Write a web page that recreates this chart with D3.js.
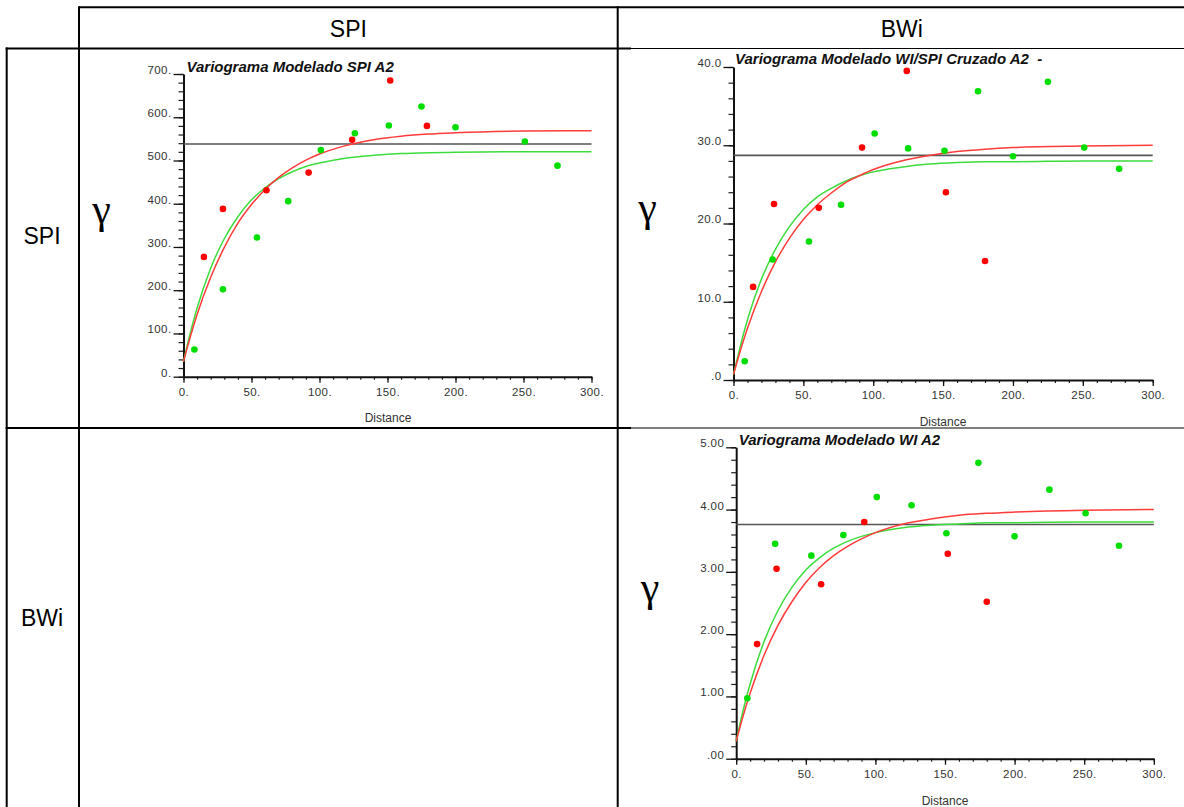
<!DOCTYPE html>
<html><head><meta charset="utf-8">
<script src="https://cdn.jsdelivr.net/npm/d3@7"></script>
<style>body{margin:0;background:#fff} svg{display:block}</style>
</head><body><svg id="c" width="1184" height="807"></svg>
<script>
// ---------- DATA ----------
const columnHeaders = ["SPI", "BWi"];
const rowHeaders = ["SPI", "BWi"];
const gammaSymbol = "γ";
const xAxisTitle = "Distance";

const xTickValues = [0, 50, 100, 150, 200, 250, 300];
const xTickLabels = ["0.", "50.", "100.", "150.", "200.", "250.", "300."];

// Model curve lag distances
const modelLags = [0, 5, 10, 20, 30, 40, 50, 60, 70, 80, 90, 100, 120, 140, 160, 180, 200, 250, 300];

// Panel 1: SPI
const spiTitle = "Variograma Modelado SPI A2";
const spiYTickValues = [0, 100, 200, 300, 400, 500, 600, 700];
const spiYTickLabels = ["0.", "100.", "200.", "300.", "400.", "500.", "600.", "700."];
const spiRedLag = [15, 29, 61, 92, 124, 152, 179];
const spiRedGamma = [277, 388, 431, 472, 548, 685, 580];
const spiGreenLag = [8, 29, 54, 77, 101, 126, 151, 175, 200, 251, 275];
const spiGreenGamma = [63, 202, 322, 406, 524, 563, 581, 625, 577, 544, 488];
const spiSill = 538;
const spiRedModel = [35, 92, 144, 230, 299, 355, 398, 433, 461, 483, 501, 515, 535, 548, 556, 561, 564, 568, 569];
const spiGreenModel = [35, 101, 159, 251, 319, 370, 409, 437, 458, 474, 486, 494, 506, 512, 516, 518, 519, 520, 520];

// Panel 2: WI/SPI cross
const crossTitle = "Variograma Modelado WI/SPI Cruzado A2  -";
const crossYTickValues = [0, 10, 20, 30, 40];
const crossYTickLabels = [".0", "10.0", "20.0", "30.0", "40.0"];
const crossRedLag = [14, 29, 61, 92, 124, 152, 180];
const crossRedGamma = [11.9, 22.5, 22.0, 29.7, 39.5, 24.0, 15.2];
const crossGreenLag = [8, 28, 54, 77, 101, 125, 151, 175, 200, 225, 251, 276];
const crossGreenGamma = [2.4, 15.4, 17.7, 22.4, 31.5, 29.6, 29.3, 36.9, 28.6, 38.1, 29.7, 27.0];
const crossSill = 28.7;
const crossRedModel = [0.7, 3.8, 6.6, 11.3, 15.1, 18.1, 20.5, 22.4, 23.9, 25.2, 26.1, 26.9, 28.0, 28.7, 29.2, 29.5, 29.7, 29.9, 30.0];
const crossGreenModel = [0.7, 4.4, 7.7, 12.9, 16.7, 19.6, 21.8, 23.4, 24.5, 25.4, 26.1, 26.6, 27.2, 27.6, 27.8, 27.9, 27.9, 28.0, 28.0];

// Panel 3: WI
const wiTitle = "Variograma Modelado WI A2";
const wiYTickValues = [0, 1, 2, 3, 4, 5];
const wiYTickLabels = [".00", "1.00", "2.00", "3.00", "4.00", "5.00"];
const wiRedLag = [15, 29, 61, 92, 152, 180];
const wiRedGamma = [1.84, 3.05, 2.80, 3.80, 3.29, 2.52];
const wiGreenLag = [8, 28, 54, 77, 101, 126, 151, 174, 200, 225, 251, 275];
const wiGreenGamma = [0.97, 3.45, 3.26, 3.59, 4.20, 4.07, 3.62, 4.75, 3.57, 4.32, 3.94, 3.42];
const wiSill = 3.76;
const wiRedModel = [0.28, 0.69, 1.05, 1.66, 2.14, 2.52, 2.83, 3.07, 3.26, 3.41, 3.53, 3.63, 3.77, 3.85, 3.91, 3.94, 3.96, 3.99, 4.00];
const wiGreenModel = [0.28, 0.78, 1.20, 1.88, 2.38, 2.75, 3.03, 3.23, 3.38, 3.49, 3.57, 3.63, 3.71, 3.75, 3.77, 3.79, 3.79, 3.80, 3.80];

// ---------- DRAW ----------
const svg = d3.select("#c");
svg.append("rect").attr("width", 1184).attr("height", 807).attr("fill", "#fff");

const SANS = "'Liberation Sans', Arial, Helvetica, sans-serif";
const RED = "#ff0000", GREEN = "#00dd00";
const RED_LINE = "#ff3b3b", GREEN_LINE = "#3ddc3d";

const panels = [
  { title: spiTitle, yMax: 700, yTicks: spiYTickValues, yLabels: spiYTickLabels, yMinor: 20,
    redLag: spiRedLag, redGamma: spiRedGamma, greenLag: spiGreenLag, greenGamma: spiGreenGamma,
    sill: spiSill, redModel: spiRedModel, greenModel: spiGreenModel,
    px: [183.5, 591.5], py: [376.7, 74], titlePos: [186.5, 71.5], gammaPos: [101.5, 223], distPos: [388, 421.5] },
  { title: crossTitle, yMax: 40, yTicks: crossYTickValues, yLabels: crossYTickLabels, yMinor: 2,
    redLag: crossRedLag, redGamma: crossRedGamma, greenLag: crossGreenLag, greenGamma: crossGreenGamma,
    sill: crossSill, redModel: crossRedModel, greenModel: crossGreenModel,
    px: [733.5, 1152.7], py: [380, 67], titlePos: [735, 64], gammaPos: [647.5, 221], distPos: [943, 426] },
  { title: wiTitle, yMax: 5, yTicks: wiYTickValues, yLabels: wiYTickLabels, yMinor: 0.2,
    redLag: wiRedLag, redGamma: wiRedGamma, greenLag: wiGreenLag, greenGamma: wiGreenGamma,
    sill: wiSill, redModel: wiRedModel, greenModel: wiGreenModel,
    px: [736.2, 1153.8], py: [758.7, 447.3], titlePos: [738.7, 445], gammaPos: [650, 601], distPos: [945, 805] }
];

panels.forEach(p => {
  const g = svg.append("g");
  const x = d3.scaleLinear().domain([0, 300]).range(p.px);
  const y = d3.scaleLinear().domain([0, p.yMax]).range(p.py);

  // minor ticks
  const xMinor = d3.range(0, 300.001, 10);
  const yMinor = d3.range(0, p.yMax + p.yMinor / 2, p.yMinor);
  g.append("g").attr("transform", `translate(0,${p.py[0]})`)
    .call(d3.axisBottom(x).tickValues(xMinor).tickSize(3).tickSizeOuter(0).tickFormat(""))
    .call(a => a.select(".domain").remove())
    .call(a => a.selectAll("line").attr("stroke", "#222").attr("stroke-width", 1.2));
  g.append("g").attr("transform", `translate(${p.px[0]},0)`)
    .call(d3.axisLeft(y).tickValues(yMinor).tickSize(5).tickSizeOuter(0).tickFormat(""))
    .call(a => a.select(".domain").remove())
    .call(a => a.selectAll("line").attr("stroke", "#222").attr("stroke-width", 1.2));

  // major axes
  g.append("g").attr("transform", `translate(0,${p.py[0]})`)
    .call(d3.axisBottom(x).tickValues(xTickValues).tickSize(6).tickPadding(5).tickSizeOuter(0)
      .tickFormat((d, i) => xTickLabels[i]))
    .call(a => a.select(".domain").attr("stroke", "#111").attr("stroke-width", 2))
    .call(a => a.selectAll("line").attr("stroke", "#111").attr("stroke-width", 1.3))
    .call(a => a.selectAll("text").attr("fill", "#333").style("font-family", SANS)
      .style("font-size", "11.5px").style("letter-spacing", "0.4px"));
  g.append("g").attr("transform", `translate(${p.px[0]},0)`)
    .call(d3.axisLeft(y).tickValues(p.yTicks).tickSize(10).tickPadding(2).tickSizeOuter(0)
      .tickFormat((d, i) => p.yLabels[i]))
    .call(a => a.select(".domain").attr("stroke", "#111").attr("stroke-width", 2))
    .call(a => a.selectAll("line").attr("stroke", "#111").attr("stroke-width", 1.3))
    .call(a => a.selectAll("text").attr("fill", "#333").attr("dy", "-0.05em").style("font-family", SANS)
      .style("font-size", "11.5px").style("letter-spacing", "0.4px"));

  // sill line
  g.append("line").attr("x1", x(0)).attr("x2", x(300)).attr("y1", y(p.sill)).attr("y2", y(p.sill))
    .attr("stroke", "#555").attr("stroke-width", 1.6);

  // model curves
  const line = d3.line().x(d => x(d[0])).y(d => y(d[1])).curve(d3.curveMonotoneX);
  g.append("path").attr("d", line(modelLags.map((h, i) => [h, p.greenModel[i]])))
    .attr("fill", "none").attr("stroke", GREEN_LINE).attr("stroke-width", 1.5);
  g.append("path").attr("d", line(modelLags.map((h, i) => [h, p.redModel[i]])))
    .attr("fill", "none").attr("stroke", RED_LINE).attr("stroke-width", 1.5);

  // experimental points
  g.selectAll(".gp").data(p.greenLag.map((h, i) => [h, p.greenGamma[i]])).enter().append("circle")
    .attr("cx", d => x(d[0])).attr("cy", d => y(d[1])).attr("r", 3.3).attr("fill", GREEN);
  g.selectAll(".rp").data(p.redLag.map((h, i) => [h, p.redGamma[i]])).enter().append("circle")
    .attr("cx", d => x(d[0])).attr("cy", d => y(d[1])).attr("r", 3.3).attr("fill", RED);

  // titles
  g.append("text").attr("x", p.titlePos[0]).attr("y", p.titlePos[1]).text(p.title)
    .attr("xml:space", "preserve").style("white-space", "pre")
    .style("font-family", SANS).style("font-size", "15px").style("font-weight", "bold")
    .style("font-style", "italic").attr("fill", "#111");
  g.append("text").attr("x", p.gammaPos[0]).attr("y", p.gammaPos[1]).attr("text-anchor", "middle")
    .text(gammaSymbol).style("font-family", "'Liberation Serif', 'Times New Roman', serif")
    .style("font-size", "42px").attr("fill", "#000");
  g.append("text").attr("x", p.distPos[0]).attr("y", p.distPos[1]).attr("text-anchor", "middle")
    .text(xAxisTitle).style("font-family", SANS).style("font-size", "12px").attr("fill", "#333");
});

// ---------- TABLE ----------
const T = svg.append("g").attr("stroke", "#000").attr("fill", "none");
const L = 6.7, C1 = 79, C2 = 617.7, R = 1184, TOP = 7.3, H = 48.5, RW = 428, B = 807;
T.append("line").attr("x1", C1).attr("x2", R).attr("y1", TOP).attr("y2", TOP).attr("stroke-width", 2);
T.append("line").attr("x1", L - 1).attr("x2", 631).attr("y1", H).attr("y2", H).attr("stroke-width", 2);
T.append("line").attr("x1", 631).attr("x2", R).attr("y1", H).attr("y2", H).attr("stroke-width", 1);
T.append("line").attr("x1", L - 1).attr("x2", 631).attr("y1", RW).attr("y2", RW).attr("stroke-width", 2);
T.append("line").attr("x1", 631).attr("x2", R).attr("y1", RW).attr("y2", RW).attr("stroke-width", 1);
T.append("line").attr("x1", L).attr("x2", L).attr("y1", H - 1).attr("y2", B).attr("stroke-width", 2);
T.append("line").attr("x1", C1).attr("x2", C1).attr("y1", TOP - 1).attr("y2", B).attr("stroke-width", 2);
T.append("line").attr("x1", C2).attr("x2", C2).attr("y1", TOP - 1).attr("y2", B).attr("stroke-width", 2);

const hdr = svg.append("g").style("font-family", SANS).style("font-size", "23px").attr("fill", "#000")
  .attr("text-anchor", "middle");
hdr.append("text").attr("x", (C1 + C2) / 2).attr("y", 37).text(columnHeaders[0]);
hdr.append("text").attr("x", (C2 + R) / 2 + 1).attr("y", 37).text(columnHeaders[1]);
hdr.append("text").attr("x", 42).attr("y", 244).text(rowHeaders[0]);
hdr.append("text").attr("x", 42).attr("y", 626).text(rowHeaders[1]);
</script></body></html>
